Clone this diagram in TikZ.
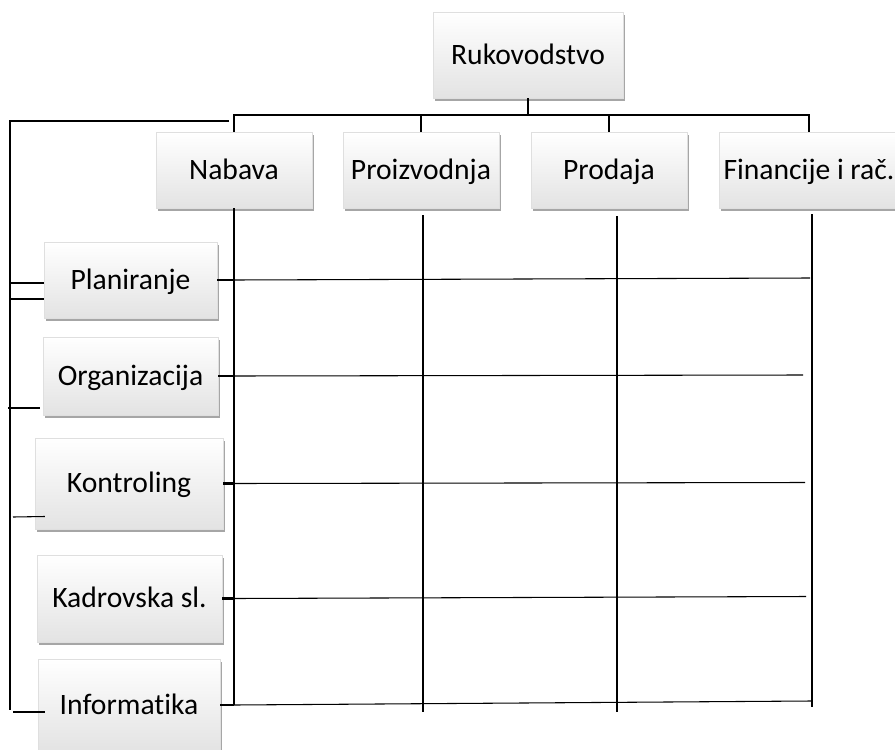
\documentclass[tikz,border=0pt]{standalone}
\usepackage{fontspec}
\setmainfont{Carlito}[Ligatures=NoCommon]
\usetikzlibrary{shadows,calc}
\begin{document}
\begin{tikzpicture}[x=0.75pt,y=-0.75pt,
  box/.style={rectangle, top color=white, bottom color=gray!22, draw=gray!25, line width=0.3pt,
    drop shadow={shadow xshift=1.5pt, shadow yshift=-2.2pt, fill=black, opacity=0.35},
    font=\fontsize{22.2}{26}\selectfont, inner sep=0pt, text height=14.2pt, text depth=0pt},
  wh/.style 2 args={minimum width=#1*0.75pt, minimum height=#2*0.75pt},
  thk/.style={line width=1.6pt},
  mid/.style={line width=1pt},
  thn/.style={line width=0.8pt}]
\useasboundingbox (0,0) rectangle (895,749);

% boxes
\node[box, wh={190}{86}] (ruk) at (528,55) {Rukovodstvo};
\node[box, wh={156}{76}] (nab) at (234,170) {Nabava};
\node[box, wh={156}{76}] (pro) at (421,170) {Proizvodnja};
\node[box, wh={156}{76}] (prd) at (609,170) {Prodaja};
\node[box, wh={180}{76}] (fin) at (809,170) {Financije i rač.};
\node[box, wh={173}{76}] (pla) at (130.5,280) {Planiranje};
\node[box, wh={175}{78}] (org) at (130.5,376) {Organizacija};
\node[box, wh={188}{91}] (kon) at (129,483.5) {Kontroling};
\node[box, wh={185}{87}] (kad) at (129.5,598.5) {Kadrovska sl.};
\node[box, wh={182}{92}] (inf) at (129,705) {Informatika};

% top bus
\coordinate (bus) at (0,115);
\draw[thk] (ruk.south) -- (ruk.south |- bus);
\draw[thk] (nab.north) -- (nab.north |- bus) -- (fin.north |- bus) -- (fin.north);
\draw[thk] (pro.north) -- (pro.north |- bus);
\draw[thk] (prd.north) -- (prd.north |- bus);

% column lines
\coordinate (bot) at (0,712);
\draw[thk] (nab.south) -- (nab.south |- inf.east);
\draw[mid] ($(pro.south)+(2,7)$) -- ($(pro.south |- bot)+(2,0)$);
\draw[mid] ($(prd.south)+(8,8)$) -- ($(prd.south |- bot)+(8,0)$);
\draw[thk] ($(fin.south)+(3,6)$) -- ($(fin.south |- bot)+(3,-5)$);

% row lines
\draw[thk] (pla.east) -- (nab.south |- pla.east);
\draw[thn] (nab.south |- pla.east) -- ($(fin.south |- pla.east)+(1,-2)$);
\draw[thk] (org.east) -- (nab.south |- org.east);
\draw[thn] (nab.south |- org.east) -- ($(fin.south |- org.east)+(-6,-1)$);
\draw[thk] (kon.east) -- (nab.south |- kon.east);
\draw[thn] (nab.south |- kon.east) -- ($(fin.south |- kon.east)+(-4,-1)$);
\draw[thk] (kad.east) -- (nab.south |- kad.east);
\draw[thn] (nab.south |- kad.east) -- ($(fin.south |- kad.east)+(-3,-2)$);
\draw[thk] (inf.east) -- (nab.south |- inf.east);
\draw[thn] (nab.south |- inf.east) -- ($(fin.south |- inf.east)+(2,-4)$);

% left bracket lines
\coordinate (L1) at (10,121);
\coordinate (L2) at (229,121);
\coordinate (L3) at (10,710);
\draw[thn] (L2) -- (L1) -- (L3);
\draw[thn] (L1 |- 0,283) -- ($(pla.west)+(0,3)$);
\draw[thn] (L1 |- 0,299) -- ($(pla.west)+(0,19)$);
\draw[thn] ($(L1 |- 0,408)+(-2,0)$) -- ($(org.west)+(-3,32)$);
\draw[thn] ($(L1 |- 0,517)+(3,0)$) -- ($(kon.west)+(10,33)$);
\draw[thn] ($(L1 |- 0,712)+(3,0)$) -- ($(inf.west)+(7,7)$);
\end{tikzpicture}
\end{document}
